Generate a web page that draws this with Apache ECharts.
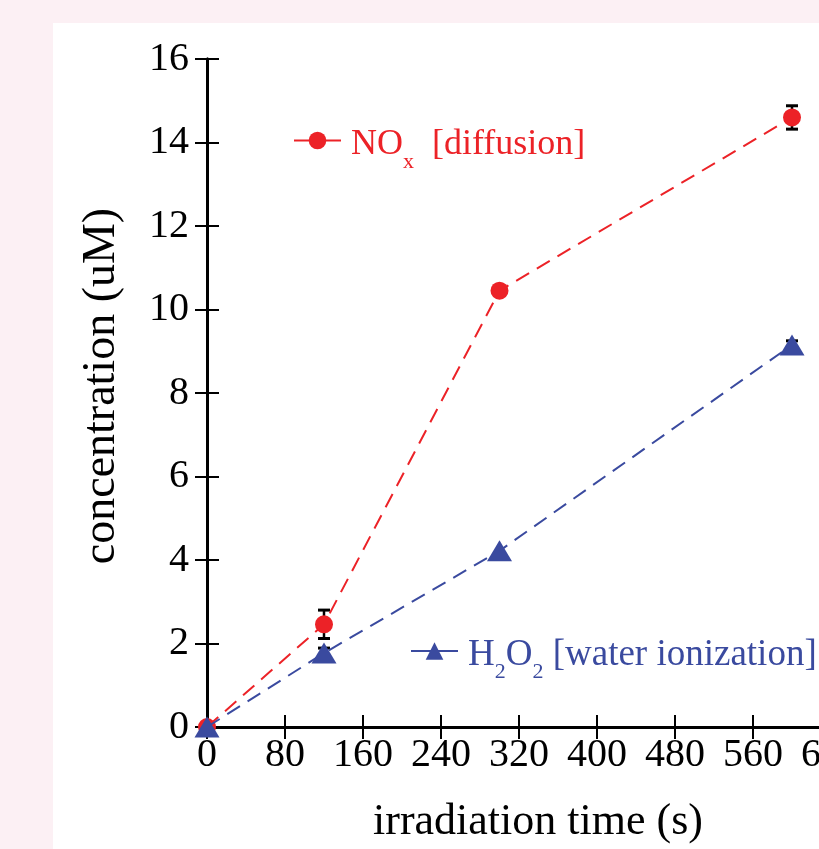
<!DOCTYPE html>
<html>
<head>
<meta charset="utf-8">
<script src="https://cdn.jsdelivr.net/npm/echarts@6/dist/echarts.min.js"></script>
<style>
  html, body { margin: 0; padding: 0; background: #fcf0f4; overflow: hidden; }
  #chart { position: absolute; left: 53px; top: 23px; width: 766px; height: 826px; background: #fff; }
</style>
</head>
<body>
<div id="chart"></div>
<script>
// irradiation time (s)
var times = [0, 120, 300, 600];
// concentration (uM)
var noxValues = [0, 2.46, 10.45, 14.6];
var h2o2Values = [0, 1.77, 4.22, 9.15];
// error bars: [time, centre, half-width]
var noxErr = [[120, 2.46, 0.34], [600, 14.6, 0.28]];
var h2o2Err = [[120, 1.77, 0.12], [600, 9.15, 0.1]];
var xTicks = [0, 80, 160, 240, 320, 400, 480, 560, 640];
var yTicks = [0, 2, 4, 6, 8, 10, 12, 14, 16];

var RED = '#ec2227';
var BLUE = '#3a4a9f';
var FONT = 'Liberation Serif';

var myChart = echarts.init(document.getElementById('chart'));

function pairs (ys) {
  return times.map(function (t, i) { return [t, ys[i]]; });
}

function errBar (params, api) {
  var x = api.value(0), c = api.value(1), e = api.value(2);
  var top = api.coord([x, c + e]);
  var bot = api.coord([x, c - e]);
  var hw = 6;
  var st = { stroke: '#000', lineWidth: 2.5 };
  return {
    type: 'group',
    children: [
      { type: 'line', shape: { x1: top[0], y1: top[1], x2: bot[0], y2: bot[1] }, style: st },
      { type: 'line', shape: { x1: top[0] - hw, y1: top[1], x2: top[0] + hw, y2: top[1] }, style: { stroke: '#000', lineWidth: 3 } },
      { type: 'line', shape: { x1: bot[0] - hw, y1: bot[1], x2: bot[0] + hw, y2: bot[1] }, style: { stroke: '#000', lineWidth: 3 } }
    ]
  };
}

function legendRich (color, size) {
  return {
    h: { fontFamily: FONT, fontSize: size, color: color, lineHeight: 56, verticalAlign: 'middle', padding: [0, 0, 0, 5] },
    a: { fontFamily: FONT, fontSize: size, color: color, lineHeight: 56, verticalAlign: 'middle' },
    s: { fontFamily: FONT, fontSize: 22, color: color, lineHeight: 51, verticalAlign: 'bottom' }
  };
}

var axisLine = { lineStyle: { color: '#000', width: 3 } };
var axisTick = { inside: true, length: 12, lineStyle: { color: '#000', width: 2 } };

var option = {
  animation: false,
  textStyle: { fontFamily: FONT },
  grid: { left: 154, top: 36, width: 624, height: 668, outerBoundsMode: 'none', containLabel: false },
  legend: [
    {
      data: ['NOx'],
      left: 240, top: 104, padding: 0,
      itemWidth: 47, itemHeight: 22,
      lineStyle: { type: 'solid', width: 2 },
      formatter: function () { return '{h|NO}{s|x}{a|  [diffusion]}'; },
      textStyle: { padding: [9, 0, 0, 0], rich: legendRich(RED, 36) }
    },
    {
      data: ['H2O2'],
      left: 357, top: 614, padding: 0,
      itemWidth: 47, itemHeight: 22,
      lineStyle: { type: 'solid', width: 2 },
      formatter: function () { return '{h|H}{s|2}{a|O}{s|2}{a| [water ionization]}'; },
      textStyle: { padding: [9, 0, 0, 0], rich: legendRich(BLUE, 37) }
    }
  ],
  xAxis: [
    {
      type: 'value', min: 0, max: 640, interval: 80,
      name: 'irradiation time (s)', nameLocation: 'middle', nameGap: 73,
      nameTextStyle: { fontFamily: FONT, fontSize: 44, color: '#000', padding: [0, 0, 0, 38] },
      axisLine: axisLine, axisTick: axisTick,
      axisLabel: { fontFamily: FONT, fontSize: 40, color: '#000', margin: 8, showMaxLabel: true },
      splitLine: { show: false }
    },
    {
      type: 'value', min: 0, max: 640, interval: 80, position: 'top',
      axisLine: axisLine, axisTick: axisTick,
      axisLabel: { show: false }, splitLine: { show: false }
    }
  ],
  yAxis: [
    {
      type: 'value', min: 0, max: 16, interval: 2,
      name: 'concentration (uM)', nameLocation: 'middle', nameGap: 82,
      nameTextStyle: { fontFamily: FONT, fontSize: 46, color: '#000', padding: [0, 0, 0, 14] },
      axisLine: axisLine, axisTick: axisTick,
      axisLabel: { fontFamily: FONT, fontSize: 40, color: '#000', margin: 18 },
      splitLine: { show: false }
    },
    {
      type: 'value', min: 0, max: 16, interval: 2, position: 'right',
      axisLine: axisLine, axisTick: axisTick,
      axisLabel: { show: false }, splitLine: { show: false }
    }
  ],
  series: [
    {
      name: 'NOx err', type: 'custom', renderItem: errBar, z: 1,
      data: noxErr, silent: true
    },
    {
      name: 'H2O2 err', type: 'custom', renderItem: errBar, z: 1,
      data: h2o2Err, silent: true
    },
    {
      name: 'NOx', type: 'line', z: 3,
      data: pairs(noxValues),
      symbol: 'circle', symbolSize: 18,
      itemStyle: { color: RED },
      lineStyle: { color: RED, width: 2, type: [15, 9] }
    },
    {
      name: 'H2O2', type: 'line', z: 4,
      data: pairs(h2o2Values),
      symbol: 'triangle', symbolSize: [25, 21],
      itemStyle: { color: BLUE },
      lineStyle: { color: BLUE, width: 2, type: [15, 9] }
    }
  ]
};

myChart.setOption(option);
</script>
</body>
</html>
